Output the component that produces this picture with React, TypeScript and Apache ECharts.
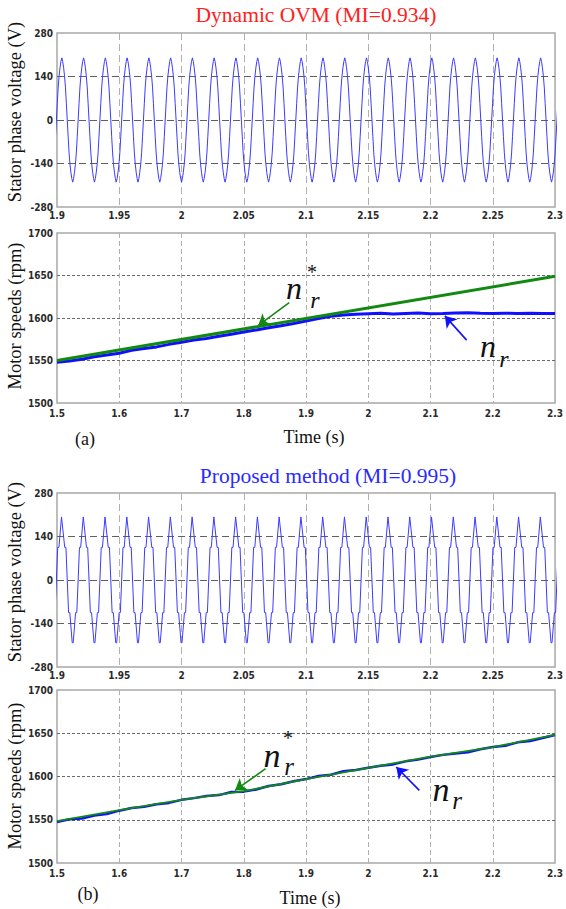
import React, { useEffect, useRef } from "react";
import * as echarts from "echarts";

// ---------- texts ----------
const TITLE_A = "Dynamic OVM (MI=0.934)";
const TITLE_B = "Proposed method (MI=0.995)";
const Y_LABEL_V = "Stator phase voltage (V)";
const Y_LABEL_N = "Motor speeds (rpm)";
const X_LABEL = "Time (s)";
const TAG_A = "(a)";
const TAG_B = "(b)";

// ---------- axes ----------
const V_X_MIN = 1.9;
const V_X_MAX = 2.3;
const V_X_STEP = 0.05;
const V_Y_MIN = -280;
const V_Y_MAX = 280;
const V_Y_STEP = 140;
const N_X_MIN = 1.5;
const N_X_MAX = 2.3;
const N_X_STEP = 0.1;
const N_Y_MIN = 1500;
const N_Y_MAX = 1700;
const N_Y_STEP = 50;

// ---------- stator phase voltage: one cycle, repeated at the fundamental period ----------
const V_PERIOD = 0.01748; // s
const V_ZERO = 1.8995; // rising zero crossing (s)
const OVM_CYCLE_DEG = [0, 15, 30, 45, 60, 75, 90, 105, 120, 135, 150, 165, 180, 195, 210, 225, 240, 255, 270, 285, 300, 315, 330, 345];
const OVM_CYCLE_V = [0, 54, 106, 142, 168, 188, 200, 188, 168, 142, 106, 54, 0, -54, -106, -142, -168, -188, -200, -188, -168, -142, -106, -54];
const PROP_CYCLE_DEG = [0, 22, 42, 85, 95, 138, 158, 180, 202, 222, 262, 278, 318, 338];
const PROP_CYCLE_V = [0, 105, 105, 203, 203, 105, 105, 0, -105, -105, -202, -202, -105, -105];

// ---------- motor speeds ----------
const SPEED_T = [1.5, 1.52, 1.54, 1.56, 1.58, 1.6, 1.62, 1.64, 1.66, 1.68, 1.7, 1.72, 1.74, 1.76, 1.78, 1.8, 1.82, 1.84, 1.86, 1.88, 1.9, 1.92, 1.94, 1.96, 1.98, 2.0, 2.02, 2.04, 2.06, 2.08, 2.1, 2.12, 2.14, 2.16, 2.18, 2.2, 2.22, 2.24, 2.26, 2.28, 2.3];
const NR_ACT_A = [1548, 1549.5, 1551.5, 1554.5, 1556.5, 1558.5, 1562, 1564, 1566, 1569, 1571.5, 1574, 1576, 1578.5, 1581, 1583.5, 1586, 1588.5, 1591, 1593.5, 1596.5, 1599.5, 1602, 1603.5, 1604.5, 1605, 1605.5, 1604.8, 1605.3, 1605.8, 1605, 1605.4, 1606, 1606.3, 1605.5, 1605.2, 1605.6, 1605.3, 1605.6, 1605.2, 1605.4];
const NR_REF_A_T = [1.5, 2.3];
const NR_REF_A = [1550, 1649];
const NR_ACT_B = [1547.5, 1550.5, 1551.5, 1555, 1556.5, 1560.5, 1563.5, 1565, 1568, 1569.5, 1573, 1575, 1577.5, 1578.5, 1582, 1582.5, 1585, 1589, 1591, 1594.5, 1597, 1600.5, 1602, 1606, 1607.5, 1610, 1612.5, 1614, 1617.5, 1619.5, 1622.5, 1625, 1626.5, 1628, 1631.5, 1634, 1635.5, 1639.5, 1641, 1644.5, 1648];
const NR_REF_B_T = [1.5, 1.6, 1.7, 1.8, 1.9, 2.0, 2.1, 2.2, 2.3];
const NR_REF_B = [1548.5, 1561, 1573, 1583, 1597, 1610, 1623, 1634, 1648];

// ---------- annotation arrows (data coordinates: [from, to]) ----------
const ARROW_REF_A = [[1.873, 1618], [1.823, 1591]];
const ARROW_ACT_A = [[2.158, 1574], [2.123, 1602.5]];
const ARROW_REF_B = [[1.835, 1609], [1.786, 1584]];
const ARROW_ACT_B = [[2.082, 1584], [2.045, 1611]];

const zip = (xs: number[], ys: number[]) => xs.map((x, i) => [x, ys[i]]);

function repeatCycle(deg: number[], val: number[]) {
  const out: number[][] = [];
  for (let k = -1; k <= 24; k++) {
    for (let i = 0; i < deg.length; i++) {
      out.push([V_ZERO + (k + deg[i] / 360) * V_PERIOD, val[i]]);
    }
  }
  return out;
}

const SERIF = '"Liberation Serif", "Times New Roman", serif';
const NARROW = '"Liberation Sans Narrow", "DejaVu Sans Condensed", "Liberation Sans", sans-serif';

const GRIDS = [
  { left: 57, top: 33, width: 501, height: 174 },
  { left: 57, top: 233, width: 501, height: 170 },
  { left: 57, top: 493, width: 501, height: 174 },
  { left: 57, top: 690, width: 501, height: 173 },
];

function arrowLine(color: string, pts: number[][]) {
  return {
    silent: true,
    symbol: ["none", "arrow"],
    symbolSize: 11,
    lineStyle: { color, width: 1.6, type: "solid" },
    label: { show: false },
    data: [[{ coord: pts[0] }, { coord: pts[1] }]],
  };
}

export default function App() {
  const ref = useRef<HTMLDivElement>(null);
  useEffect(() => {
    if (!ref.current) return;
    const chart = echarts.init(ref.current, undefined, { renderer: "svg" });
    const axisLabel = (margin: number) => ({
      fontFamily: NARROW,
      fontSize: 10,
      fontWeight: "bold",
      color: "#2a2a2a",
      margin,
      formatter: (v: number) => String(+Number(v).toFixed(4)),
    });
    const xAxes = GRIDS.map((_, i) => {
      const isV = i % 2 === 0;
      return {
        type: "value",
        gridIndex: i,
        min: isV ? V_X_MIN : N_X_MIN,
        max: isV ? V_X_MAX : N_X_MAX,
        interval: isV ? V_X_STEP : N_X_STEP,
        axisLine: { show: false },
        axisTick: { show: false },
        axisLabel: axisLabel(isV ? 3 : 5),
        splitLine: {
          show: true,
          showMinLine: false,
          showMaxLine: false,
          lineStyle: { color: "#b0b0b0", width: 1, type: isV ? [7, 4] : [5, 3] },
        },
      };
    });
    const yAxes = GRIDS.map((_, i) => {
      const isV = i % 2 === 0;
      return {
        type: "value",
        gridIndex: i,
        min: isV ? V_Y_MIN : N_Y_MIN,
        max: isV ? V_Y_MAX : N_Y_MAX,
        interval: isV ? V_Y_STEP : N_Y_STEP,
        axisLine: { show: false },
        axisTick: { show: false },
        axisLabel: axisLabel(4),
        splitLine: {
          show: true,
          showMinLine: false,
          showMaxLine: false,
          lineStyle: { color: isV ? "#606060" : "#6a6a6a", width: 1, type: isV ? [7, 4] : [3, 2] },
        },
      };
    });

    const textEl = (text: string, x: number, y: number, font: string, color = "#111", extra: any = {}) => ({
      type: "text",
      x,
      y,
      silent: true,
      z: 100,
      ...extra,
      style: { text, font, fill: color, align: "center", verticalAlign: "middle" },
    });

    const graphics: any[] = [
      textEl(TITLE_A, 316, 15, `21.5px ${SERIF}`, "#ff2020"),
      textEl(TITLE_B, 328, 476, `21.5px ${SERIF}`, "#2a2aff"),
      textEl(Y_LABEL_V, 15, 112, `18.5px ${SERIF}`, "#111", { rotation: Math.PI / 2 }),
      textEl(Y_LABEL_N, 15, 316, `18.5px ${SERIF}`, "#111", { rotation: Math.PI / 2 }),
      textEl(Y_LABEL_V, 15, 572, `18.5px ${SERIF}`, "#111", { rotation: Math.PI / 2 }),
      textEl(Y_LABEL_N, 15, 776, `18.5px ${SERIF}`, "#111", { rotation: Math.PI / 2 }),
      textEl(X_LABEL, 314, 437, `18px ${SERIF}`),
      textEl(X_LABEL, 310, 898, `18px ${SERIF}`),
      textEl(TAG_A, 85, 439, `18px ${SERIF}`),
      textEl(TAG_B, 88, 894, `18px ${SERIF}`),
      // n_r* / n_r labels (a)
      textEl("n", 294, 288, `italic 32px ${SERIF}`),
      textEl("r", 315, 300, `italic 24px ${SERIF}`),
      textEl("*", 312, 272, `20px ${SERIF}`),
      textEl("n", 488, 346, `italic 32px ${SERIF}`),
      textEl("r", 504, 359, `italic 24px ${SERIF}`),
      // (b)
      textEl("n", 272, 755, `italic 34px ${SERIF}`),
      textEl("r", 289, 766, `italic 25px ${SERIF}`),
      textEl("*", 288, 738, `20px ${SERIF}`),
      textEl("n", 441, 789, `italic 34px ${SERIF}`),
      textEl("r", 457, 800, `italic 25px ${SERIF}`),
    ];

    const VOLT = "#3b3bff";
    const BLUE = "#1010ff";
    const GREEN = "#118a11";

    chart.setOption({
      animation: false,
      backgroundColor: "#ffffff",
      grid: GRIDS.map((g) => ({
        ...g,
        show: true,
        borderColor: "#a8a8a8",
        borderWidth: 1.5,
        backgroundColor: "#ffffff",
        containLabel: false,
      })),
      xAxis: xAxes,
      yAxis: yAxes,
      graphic: graphics,
      series: [
        {
          type: "line",
          xAxisIndex: 0,
          yAxisIndex: 0,
          data: repeatCycle(OVM_CYCLE_DEG, OVM_CYCLE_V),
          showSymbol: false,
          lineStyle: { color: VOLT, width: 1 },
        },
        {
          type: "line",
          xAxisIndex: 2,
          yAxisIndex: 2,
          data: repeatCycle(PROP_CYCLE_DEG, PROP_CYCLE_V),
          showSymbol: false,
          lineStyle: { color: VOLT, width: 1 },
        },
        {
          type: "line",
          xAxisIndex: 1,
          yAxisIndex: 1,
          data: zip(SPEED_T, NR_ACT_A),
          showSymbol: false,
          lineStyle: { color: BLUE, width: 3 },
          markLine: arrowLine(BLUE, ARROW_ACT_A),
        },
        {
          type: "line",
          xAxisIndex: 1,
          yAxisIndex: 1,
          data: zip(NR_REF_A_T, NR_REF_A),
          showSymbol: false,
          lineStyle: { color: GREEN, width: 3 },
          markLine: arrowLine(GREEN, ARROW_REF_A),
        },
        {
          type: "line",
          xAxisIndex: 3,
          yAxisIndex: 3,
          data: zip(SPEED_T, NR_ACT_B),
          showSymbol: false,
          lineStyle: { color: BLUE, width: 2.5 },
          markLine: arrowLine(BLUE, ARROW_ACT_B),
        },
        {
          type: "line",
          xAxisIndex: 3,
          yAxisIndex: 3,
          data: zip(NR_REF_B_T, NR_REF_B),
          showSymbol: false,
          lineStyle: { color: GREEN, width: 1.8 },
          markLine: arrowLine(GREEN, ARROW_REF_B),
        },
      ],
    });
    return () => chart.dispose();
  }, []);
  return (
    <div
      ref={ref}
      style={{ position: "absolute", left: 0, top: 0, width: 566, height: 909, background: "#fff" }}
    />
  );
}
